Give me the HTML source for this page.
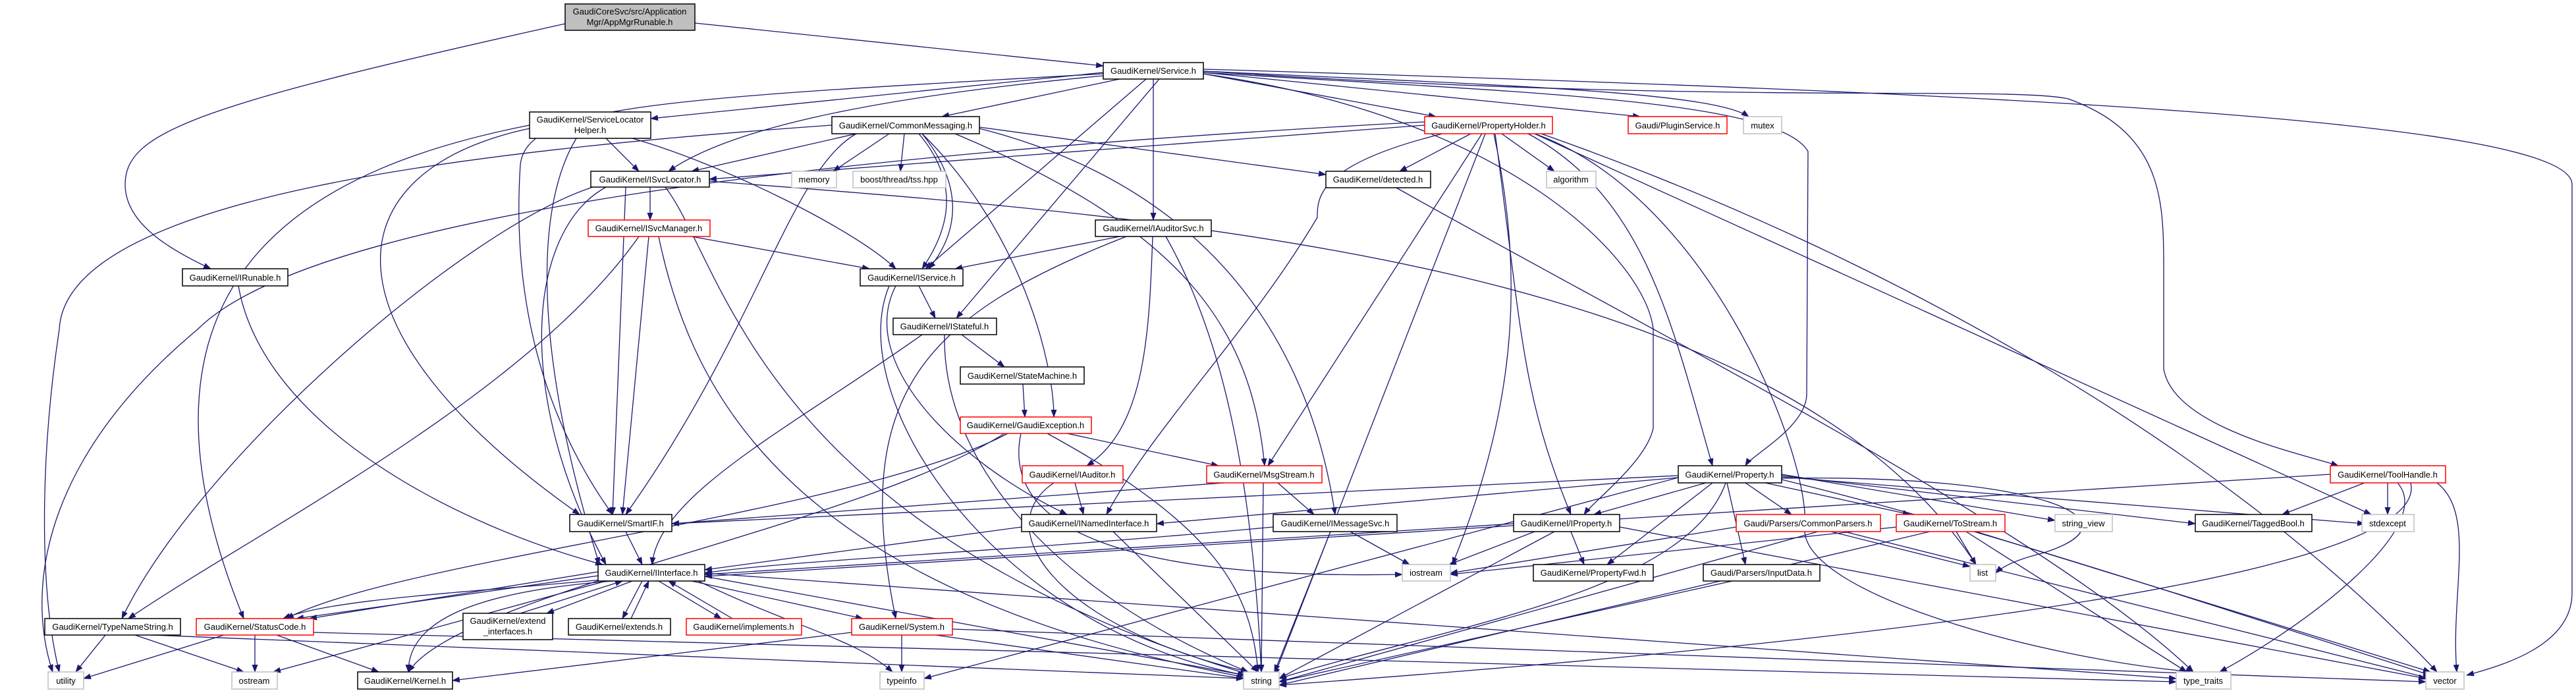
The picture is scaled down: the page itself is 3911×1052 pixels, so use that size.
<!DOCTYPE html>
<html><head><meta charset="utf-8"><style>
html,body{margin:0;padding:0;background:#fff;}
svg{display:block;}
text{font-family:"Liberation Sans",sans-serif;font-size:13px;fill:#000;}
.e{fill:none;stroke:#191970;stroke-width:1.3;marker-end:url(#a);}
.n{fill:#fff;stroke:#000;stroke-width:1.5;}
.r{fill:#fff;stroke:#ff0000;stroke-width:1.5;}
.g{fill:#fff;stroke:#bfbfbf;stroke-width:1.5;}
</style></head><body>
<svg width="3911" height="1052" viewBox="0 0 3911 1052" xmlns="http://www.w3.org/2000/svg">
<defs><marker id="a" markerWidth="12" markerHeight="9" refX="11" refY="4.5" orient="auto" markerUnits="userSpaceOnUse"><path d="M0,0 L12,4.5 L0,9 z" fill="#191970"/></marker></defs>
<g>
<path class="e" d="M1055,35 L1675,100"/>
<path class="e" d="M858,36 C300,160 190,200 190,280 C190,340 260,380 320,408"/>
<path class="e" d="M1675,110 L988,180"/>
<path class="e" d="M1700,120 L1430,177"/>
<path class="e" d="M1675,115 C1300,150 1100,200 1015,260"/>
<path class="e" d="M1740,120 L1405,408"/>
<path class="e" d="M1675,112 C1000,150 800,160 790,250 C780,400 800,600 930,781"/>
<path class="e" d="M1751,120 L1751,334"/>
<path class="e" d="M1760,120 L1452,483"/>
<path class="e" d="M1827,112 L2180,177"/>
<path class="e" d="M1827,110 L2490,177"/>
<path class="e" d="M1827,108 C2300,130 2600,140 2655,177"/>
<path class="e" d="M1827,105 C3000,140 3905,180 3905,280 L3905,900 C3905,980 3800,1010 3745,1025"/>
<path class="e" d="M1827,108 C2600,160 3050,130 3140,150 C3280,200 3285,300 3285,400 L3285,560 C3300,650 3500,690 3550,707"/>
<path class="e" d="M1827,110 C2300,140 2700,150 2745,230 L2743,600 C2740,650 2660,690 2650,707"/>
<path class="e" d="M1827,112 C2300,180 2500,400 2510,500 L2510,650 C2500,700 2420,760 2405,781"/>
<path class="e" d="M920,210 L970,260"/>
<path class="e" d="M804,195 C500,260 480,500 880,781"/>
<path class="e" d="M804,190 C500,250 150,400 370,939"/>
<path class="e" d="M875,210 C820,300 800,500 910,857"/>
<path class="e" d="M960,210 C1100,250 1300,350 1360,408"/>
<path class="e" d="M1300,203 L1050,260"/>
<path class="e" d="M1350,203 L1265,260"/>
<path class="e" d="M1373,203 L1367,260"/>
<path class="e" d="M1395,203 C1460,280 1440,350 1400,408"/>
<path class="e" d="M1400,203 C1470,290 1450,360 1410,408"/>
<path class="e" d="M1300,203 C1200,260 1150,500 950,781"/>
<path class="e" d="M1400,203 C1550,350 1600,550 1600,633"/>
<path class="e" d="M1450,203 C1800,350 1900,500 1920,707"/>
<path class="e" d="M1487,195 C1900,300 2000,600 2027,781"/>
<path class="e" d="M1487,193 L2013,265"/>
<path class="e" d="M1263,190 C700,230 100,300 90,500 C60,700 60,900 90,1020"/>
<path class="e" d="M2163,185 C1500,220 500,300 300,500 C60,700 40,900 80,1020"/>
<path class="e" d="M987,284 L987,334"/>
<path class="e" d="M950,284 L930,781"/>
<path class="e" d="M920,284 C800,350 780,600 920,857"/>
<path class="e" d="M900,284 C700,350 300,700 185,939"/>
<path class="e" d="M1010,284 C1100,400 1150,800 1900,1025"/>
<path class="e" d="M1077,275 C1800,330 2700,400 3000,857"/>
<path class="e" d="M1050,359 L1320,408"/>
<path class="e" d="M985,359 L945,781"/>
<path class="e" d="M970,359 C800,600 400,800 195,939"/>
<path class="e" d="M1000,359 C1050,600 1200,900 1900,1030"/>
<path class="e" d="M362,434 C400,650 700,800 915,857"/>
<path class="e" d="M1700,359 L1450,408"/>
<path class="e" d="M1750,359 C1745,500 1740,650 1650,707"/>
<path class="e" d="M1710,359 C1400,480 1290,600 1360,939"/>
<path class="e" d="M1770,359 C1850,500 1900,700 1915,1020"/>
<path class="e" d="M1395,434 L1420,483"/>
<path class="e" d="M1360,434 C1300,550 1450,700 1620,781"/>
<path class="e" d="M1350,434 C1280,600 1500,950 1890,1025"/>
<path class="e" d="M1460,508 L1525,557"/>
<path class="e" d="M1400,508 C1200,650 1000,750 990,857"/>
<path class="e" d="M1434,508 C1430,700 1600,900 1895,1020"/>
<path class="e" d="M1553,583 L1556,633"/>
<path class="e" d="M1620,658 L1850,707"/>
<path class="e" d="M1530,658 C1300,780 600,850 435,939"/>
<path class="e" d="M1525,658 C1300,800 700,900 620,1020"/>
<path class="e" d="M1590,658 C1850,800 1900,900 1910,1020"/>
<path class="e" d="M1550,658 C1520,800 1700,880 2129,872"/>
<path class="e" d="M1632,733 L1645,781"/>
<path class="e" d="M1600,733 C1500,800 1600,950 1895,1020"/>
<path class="e" d="M1940,733 L1995,781"/>
<path class="e" d="M1918,733 L1915,1020"/>
<path class="e" d="M2007,722 L1020,795"/>
<path class="e" d="M1933,800 C1500,840 1200,850 1070,870"/>
<path class="e" d="M2050,807 L2140,857"/>
<path class="e" d="M2020,807 L1935,1020"/>
<path class="e" d="M1551,800 L1070,865"/>
<path class="e" d="M1690,807 L1910,1020"/>
<path class="e" d="M950,807 L975,857"/>
<path class="e" d="M908,868 L470,939"/>
<path class="e" d="M908,874 L450,939"/>
<path class="e" d="M915,880 C700,900 500,910 430,939"/>
<path class="e" d="M930,882 C700,900 620,950 620,1020"/>
<path class="e" d="M960,882 L830,931"/>
<path class="e" d="M790,931 L945,882"/>
<path class="e" d="M975,882 L945,939"/>
<path class="e" d="M958,939 L985,882"/>
<path class="e" d="M1000,882 L1095,939"/>
<path class="e" d="M1112,939 L1015,882"/>
<path class="e" d="M1050,882 L1310,939"/>
<path class="e" d="M1060,882 C1200,950 1300,970 1355,1020"/>
<path class="e" d="M1070,875 L1890,1025"/>
<path class="e" d="M920,882 L415,1020"/>
<path class="e" d="M1070,870 L3304,1030"/>
<path class="e" d="M160,964 L115,1020"/>
<path class="e" d="M205,964 L370,1020"/>
<path class="e" d="M230,964 L1888,1030"/>
<path class="e" d="M340,964 L127,1030"/>
<path class="e" d="M387,964 L387,1020"/>
<path class="e" d="M420,964 L575,1020"/>
<path class="e" d="M476,960 L3304,1035"/>
<path class="e" d="M1293,960 L687,1033"/>
<path class="e" d="M1369,964 L1369,1020"/>
<path class="e" d="M1420,964 L1888,1030"/>
<path class="e" d="M1446,955 L3683,1035"/>
<path class="e" d="M2163,190 L1077,272"/>
<path class="e" d="M2233,203 L2125,260"/>
<path class="e" d="M2280,203 L2360,260"/>
<path class="e" d="M2255,203 L1935,1025"/>
<path class="e" d="M2250,203 L1925,707"/>
<path class="e" d="M2190,203 C2000,250 2000,300 2000,330 C1900,500 1750,650 1680,781"/>
<path class="e" d="M2270,203 C2310,500 2310,600 2385,781"/>
<path class="e" d="M2320,203 C2500,300 2540,500 2600,707"/>
<path class="e" d="M2268,203 C2310,400 2310,600 2205,857"/>
<path class="e" d="M2330,203 C2600,300 2750,700 2740,800 C2730,900 3100,1000 3330,1020"/>
<path class="e" d="M2330,203 L3600,781"/>
<path class="e" d="M2340,203 C2900,400 3400,700 3700,1020"/>
<path class="e" d="M2120,285 C2500,500 3100,800 3330,1020"/>
<path class="e" d="M2590,733 L2420,781"/>
<path class="e" d="M2600,733 L2440,857"/>
<path class="e" d="M2650,733 L2720,781"/>
<path class="e" d="M2680,733 L2900,781"/>
<path class="e" d="M2622,733 L2650,857"/>
<path class="e" d="M2705,720 L3120,790"/>
<path class="e" d="M2705,722 L3333,795"/>
<path class="e" d="M2705,724 L3590,795"/>
<path class="e" d="M2705,726 C3100,720 3260,790 3100,840 C3060,850 3040,860 3030,870"/>
<path class="e" d="M2705,728 C3000,800 3300,900 3690,1025"/>
<path class="e" d="M2620,733 C2560,900 2200,950 1942,1030"/>
<path class="e" d="M2548,725 L1403,1030"/>
<path class="e" d="M2548,722 L1020,795"/>
<path class="e" d="M2548,725 L1756,795"/>
<path class="e" d="M2298,795 L1070,872"/>
<path class="e" d="M2330,807 L2200,857"/>
<path class="e" d="M2385,807 L2405,857"/>
<path class="e" d="M2360,807 L1942,1030"/>
<path class="e" d="M2459,800 L3683,1030"/>
<path class="e" d="M2636,800 L2202,870"/>
<path class="e" d="M2760,807 L1942,1035"/>
<path class="e" d="M2780,807 L2991,860"/>
<path class="e" d="M2800,807 L3690,1030"/>
<path class="e" d="M2630,882 L1942,1035"/>
<path class="e" d="M2880,800 L2202,872"/>
<path class="e" d="M2970,807 L3000,857"/>
<path class="e" d="M2930,807 L1942,1040"/>
<path class="e" d="M2985,807 L3320,1020"/>
<path class="e" d="M3000,807 L3690,1020"/>
<path class="e" d="M3590,733 L3465,781"/>
<path class="e" d="M3625,733 L3625,781"/>
<path class="e" d="M3640,733 C3700,800 3500,950 3370,1020"/>
<path class="e" d="M3660,733 C3700,900 2500,1000 1942,1040"/>
<path class="e" d="M3700,733 C3760,780 3720,900 3730,1020"/>
<path class="e" d="M3538,720 L1070,875"/>
</g>
<g>
<rect x="858" y="6" width="197" height="40" fill="#bfbfbf" stroke="#000" stroke-width="1.5"/>
<text x="956" y="22" text-anchor="middle">GaudiCoreSvc/src/Application</text>
<text x="956" y="38" text-anchor="middle">Mgr/AppMgrRunable.h</text>
<rect class="n" x="1675" y="95" width="152" height="25"/><text x="1751" y="112" text-anchor="middle">GaudiKernel/Service.h</text>
<rect class="n" x="804" y="170" width="184" height="40"/><text x="896" y="186" text-anchor="middle">GaudiKernel/ServiceLocator</text><text x="896" y="202" text-anchor="middle">Helper.h</text>
<rect class="n" x="1263" y="177" width="224" height="26"/><text x="1375" y="195" text-anchor="middle">GaudiKernel/CommonMessaging.h</text>
<rect class="r" x="2163" y="177" width="194" height="26"/><text x="2260" y="195" text-anchor="middle">GaudiKernel/PropertyHolder.h</text>
<rect class="r" x="2472" y="177" width="150" height="26"/><text x="2547" y="195" text-anchor="middle">Gaudi/PluginService.h</text>
<rect class="g" x="2647" y="177" width="58" height="26"/><text x="2676" y="195" text-anchor="middle">mutex</text>
<rect class="n" x="897" y="260" width="180" height="24"/><text x="987" y="277" text-anchor="middle">GaudiKernel/ISvcLocator.h</text>
<rect class="g" x="1202" y="260" width="68" height="25"/><text x="1236" y="277" text-anchor="middle">memory</text>
<rect class="g" x="1295" y="260" width="141" height="25"/><text x="1365" y="277" text-anchor="middle">boost/thread/tss.hpp</text>
<rect class="n" x="2013" y="260" width="159" height="25"/><text x="2092" y="277" text-anchor="middle">GaudiKernel/detected.h</text>
<rect class="g" x="2348" y="260" width="75" height="25"/><text x="2385" y="277" text-anchor="middle">algorithm</text>
<rect class="r" x="893" y="334" width="185" height="25"/><text x="985" y="351" text-anchor="middle">GaudiKernel/ISvcManager.h</text>
<rect class="n" x="1663" y="334" width="176" height="25"/><text x="1751" y="351" text-anchor="middle">GaudiKernel/IAuditorSvc.h</text>
<rect class="n" x="277" y="408" width="160" height="26"/><text x="357" y="426" text-anchor="middle">GaudiKernel/IRunable.h</text>
<rect class="n" x="1306" y="408" width="156" height="26"/><text x="1384" y="426" text-anchor="middle">GaudiKernel/IService.h</text>
<rect class="n" x="1356" y="483" width="157" height="25"/><text x="1434" y="500" text-anchor="middle">GaudiKernel/IStateful.h</text>
<rect class="n" x="1458" y="557" width="188" height="26"/><text x="1552" y="575" text-anchor="middle">GaudiKernel/StateMachine.h</text>
<rect class="r" x="1458" y="633" width="199" height="25"/><text x="1557" y="650" text-anchor="middle">GaudiKernel/GaudiException.h</text>
<rect class="r" x="1552" y="707" width="153" height="26"/><text x="1628" y="725" text-anchor="middle">GaudiKernel/IAuditor.h</text>
<rect class="r" x="1832" y="707" width="175" height="26"/><text x="1919" y="725" text-anchor="middle">GaudiKernel/MsgStream.h</text>
<rect class="n" x="2548" y="707" width="157" height="26"/><text x="2626" y="725" text-anchor="middle">GaudiKernel/Property.h</text>
<rect class="r" x="3538" y="707" width="175" height="26"/><text x="3625" y="725" text-anchor="middle">GaudiKernel/ToolHandle.h</text>
<rect class="n" x="865" y="781" width="155" height="26"/><text x="942" y="799" text-anchor="middle">GaudiKernel/SmartIF.h</text>
<rect class="n" x="1551" y="781" width="205" height="26"/><text x="1653" y="799" text-anchor="middle">GaudiKernel/INamedInterface.h</text>
<rect class="n" x="1933" y="781" width="188" height="26"/><text x="2027" y="799" text-anchor="middle">GaudiKernel/IMessageSvc.h</text>
<rect class="n" x="2298" y="781" width="161" height="26"/><text x="2378" y="799" text-anchor="middle">GaudiKernel/IProperty.h</text>
<rect class="r" x="2636" y="781" width="219" height="26"/><text x="2745" y="799" text-anchor="middle">Gaudi/Parsers/CommonParsers.h</text>
<rect class="r" x="2879" y="781" width="165" height="26"/><text x="2961" y="799" text-anchor="middle">GaudiKernel/ToStream.h</text>
<rect class="g" x="3120" y="781" width="87" height="26"/><text x="3163" y="799" text-anchor="middle">string_view</text>
<rect class="n" x="3333" y="781" width="177" height="26"/><text x="3421" y="799" text-anchor="middle">GaudiKernel/TaggedBool.h</text>
<rect class="g" x="3586" y="781" width="79" height="26"/><text x="3625" y="799" text-anchor="middle">stdexcept</text>
<rect class="n" x="908" y="857" width="162" height="25"/><text x="989" y="874" text-anchor="middle">GaudiKernel/IInterface.h</text>
<rect class="g" x="2129" y="857" width="73" height="25"/><text x="2165" y="874" text-anchor="middle">iostream</text>
<rect class="n" x="2328" y="857" width="182" height="25"/><text x="2419" y="874" text-anchor="middle">GaudiKernel/PropertyFwd.h</text>
<rect class="n" x="2586" y="857" width="177" height="25"/><text x="2674" y="874" text-anchor="middle">Gaudi/Parsers/InputData.h</text>
<rect class="g" x="2991" y="857" width="39" height="25"/><text x="3010" y="874" text-anchor="middle">list</text>
<rect class="n" x="68" y="939" width="206" height="25"/><text x="171" y="956" text-anchor="middle">GaudiKernel/TypeNameString.h</text>
<rect class="r" x="298" y="939" width="178" height="25"/><text x="387" y="956" text-anchor="middle">GaudiKernel/StatusCode.h</text>
<rect class="n" x="703" y="931" width="136" height="40"/><text x="771" y="947" text-anchor="middle">GaudiKernel/extend</text><text x="771" y="963" text-anchor="middle">_interfaces.h</text>
<rect class="n" x="863" y="939" width="155" height="25"/><text x="940" y="956" text-anchor="middle">GaudiKernel/extends.h</text>
<rect class="r" x="1042" y="939" width="175" height="25"/><text x="1129" y="956" text-anchor="middle">GaudiKernel/implements.h</text>
<rect class="r" x="1293" y="939" width="153" height="25"/><text x="1369" y="956" text-anchor="middle">GaudiKernel/System.h</text>
<rect class="g" x="73" y="1020" width="54" height="26"/><text x="100" y="1038" text-anchor="middle">utility</text>
<rect class="g" x="352" y="1020" width="69" height="26"/><text x="386" y="1038" text-anchor="middle">ostream</text>
<rect class="n" x="543" y="1020" width="144" height="26"/><text x="615" y="1038" text-anchor="middle">GaudiKernel/Kernel.h</text>
<rect class="g" x="1336" y="1020" width="67" height="26"/><text x="1369" y="1038" text-anchor="middle">typeinfo</text>
<rect class="g" x="1888" y="1020" width="54" height="26"/><text x="1915" y="1038" text-anchor="middle">string</text>
<rect class="g" x="3304" y="1020" width="83" height="26"/><text x="3345" y="1038" text-anchor="middle">type_traits</text>
<rect class="g" x="3683" y="1020" width="58" height="26"/><text x="3712" y="1038" text-anchor="middle">vector</text>
</g>
</svg>
</body></html>
